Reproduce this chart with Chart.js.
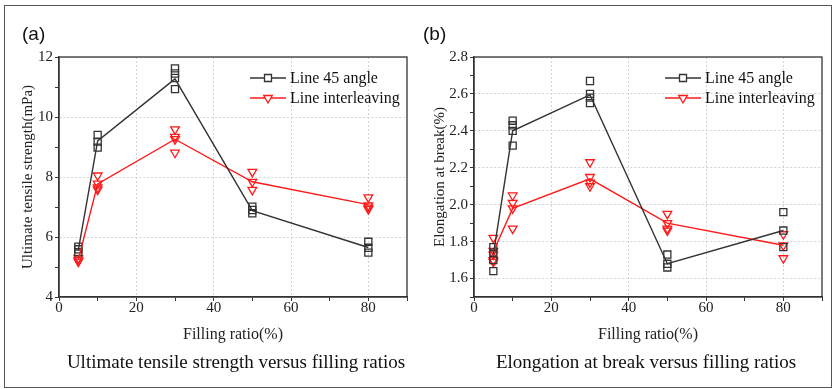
<!DOCTYPE html>
<html>
<head>
<meta charset="utf-8">
<script src="https://cdn.jsdelivr.net/npm/chart.js@4.4.1/dist/chart.umd.min.js"></script>
<style>
  body { margin: 0; background: #fff; }
  #wrap { position: relative; width: 835px; height: 389px; overflow: hidden; background: #fff; }
  .frame { position: absolute; left: 4px; top: 5px; width: 828px; height: 383px; border: 1px solid #555; box-sizing: border-box; }
  canvas { position: absolute; top: 0; }
  .tag { position: absolute; top: 22px; font: 19px "Liberation Sans", Arial, sans-serif; color: #111; line-height: 24px; }
  .caption { position: absolute; top: 350px; text-align: center; font: 19px "Liberation Serif", "Times New Roman", serif; color: #111; line-height: 24px; }
</style>
</head>
<body>
<div id="wrap">
  <div class="frame"></div>
  <canvas id="chartA" width="417" height="389" style="left:0"></canvas>
  <canvas id="chartB" width="418" height="389" style="left:417px"></canvas>
  <div class="tag" style="left:22px">(a)</div>
  <div class="tag" style="left:423px">(b)</div>
  <div class="caption" style="left:36px;width:400px">Ultimate tensile strength versus filling ratios</div>
  <div class="caption" style="left:446px;width:400px">Elongation at break versus filling ratios</div>
</div>
<script>
// Données
const fillingRatio = [5, 10, 30, 50, 80];
const xTickLabels = [0, 20, 40, 60, 80];

// (a) résistance à la traction
const strengthAngleMean = [5.57, 9.2, 11.27, 6.88, 5.65];
const strengthInterMean = [5.25, 7.77, 9.26, 7.84, 7.08];
const strengthAngleSamples = [[5.68, 5.59, 5.49], [9.4, 9.18, 8.98], [11.62, 11.45, 11.3, 10.93], [7.01, 6.9, 6.79], [5.84, 5.64, 5.48]];
const strengthInterSamples = [[5.3, 5.24, 5.18], [8.05, 7.78, 7.65, 7.58], [9.59, 9.34, 9.26, 8.81], [8.17, 7.84, 7.57], [7.32, 7.05, 6.98, 6.93]];
const strengthTicks = [4, 6, 8, 10, 12];

// (b) allongement à la rupture
const elongAngleMean = [1.73, 2.40, 2.595, 1.68, 1.86];
const elongInterMean = [1.745, 1.98, 2.14, 1.90, 1.78];
const elongAngleSamples = [[1.77, 1.74, 1.70, 1.64], [2.455, 2.43, 2.40, 2.32], [2.67, 2.60, 2.58, 2.55], [1.73, 1.68, 1.66], [1.96, 1.86, 1.77]];
const elongInterSamples = [[1.82, 1.75, 1.73, 1.70, 1.69], [2.05, 2.01, 1.98, 1.87], [2.23, 2.15, 2.12, 2.10], [1.95, 1.90, 1.87, 1.86], [1.84, 1.78, 1.71]];
const elongTicks = ['1.6', '1.8', '2.0', '2.2', '2.4', '2.6', '2.8'];

const SERIF = '"Liberation Serif", "Times New Roman", serif';
const BLACK = '#333333';
const RED = '#ff1a1a';

function toPoints(means) {
    return fillingRatio.map((x, i) => ({ x: x, y: means[i] }));
}

function toScatter(samples) {
    const pts = [];
    samples.forEach((list, i) => {
        list.forEach(v => pts.push({ x: fillingRatio[i], y: v }));
    });
    return pts;
}

// cadre autour de la zone de tracé
const framePlugin = {
    id: 'plotFrame',
    afterDraw(chart) {
        const a = chart.chartArea;
        const ctx = chart.ctx;
        ctx.save();
        ctx.strokeStyle = BLACK;
        ctx.lineWidth = 1.3;
        ctx.strokeRect(a.left, a.top, a.right - a.left, a.bottom - a.top);
        ctx.restore();
    }
};

// légende style Origin : trait + marqueur
const boxLegendPlugin = {
    id: 'boxLegend',
    afterDraw(chart) {
        const ctx = chart.ctx;
        const a = chart.chartArea;
        const items = chart.data.datasets.filter(d => d.showLine);
        items.forEach((d, i) => {
            const x0 = a.right - 157;
            const y = a.top + 21 + i * 20;
            const mx = x0 + 18;
            ctx.save();
            ctx.strokeStyle = d.borderColor;
            ctx.lineWidth = 1.3;
            ctx.beginPath();
            ctx.moveTo(x0, y);
            ctx.lineTo(x0 + 36, y);
            ctx.stroke();
            ctx.fillStyle = '#fff';
            ctx.beginPath();
            if (d.marker === 'rect') {
                ctx.rect(mx - 3.5, y - 3.5, 7, 7);
            } else {
                ctx.moveTo(mx - 4.3, y - 2.5);
                ctx.lineTo(mx + 4.3, y - 2.5);
                ctx.lineTo(mx, y + 5);
                ctx.closePath();
            }
            ctx.fill();
            ctx.stroke();
            ctx.fillStyle = '#111';
            ctx.font = '16px ' + SERIF;
            ctx.textBaseline = 'middle';
            ctx.fillText(d.label, x0 + 40, y + 1);
            ctx.restore();
        });
    }
};

function buildDatasets(angleMean, interMean, angleSamples, interSamples) {
    return [
        {
            label: 'Line 45 angle', marker: 'rect', showLine: true,
            data: toPoints(angleMean), borderColor: BLACK, borderWidth: 1.4,
            pointRadius: 0
        },
        {
            label: 'Line interleaving', marker: 'triangle', showLine: true,
            data: toPoints(interMean), borderColor: RED, borderWidth: 1.4,
            pointRadius: 0
        },
        {
            label: 'Line 45 angle samples', showLine: false,
            data: toScatter(angleSamples), borderColor: BLACK,
            pointStyle: 'rect', pointRadius: 5, pointBorderWidth: 1.3,
            pointBackgroundColor: 'rgba(255,255,255,0)', pointBorderColor: BLACK
        },
        {
            label: 'Line interleaving samples', showLine: false,
            data: toScatter(interSamples), borderColor: RED,
            pointStyle: 'triangle', rotation: 180, pointRadius: 5, pointBorderWidth: 1.3,
            pointBackgroundColor: 'rgba(255,255,255,0)', pointBorderColor: RED
        }
    ];
}

function makeChart(canvasId, cfg) {
    const ctx = document.getElementById(canvasId).getContext('2d');
    return new Chart(ctx, {
        type: 'scatter',
        data: { datasets: cfg.datasets },
        options: {
            responsive: false,
            animation: false,
            devicePixelRatio: 1,
            layout: { padding: { left: 0, right: cfg.padRight, top: 57, bottom: 42 } },
            plugins: {
                legend: { display: false },
                tooltip: { enabled: false }
            },
            scales: {
                x: {
                    type: 'linear', min: 0, max: 90,
                    afterFit: function(scale) { scale.height = 50; },
                    ticks: {
                        stepSize: 10, autoSkip: false, maxRotation: 0, padding: 0,
                        color: '#222', font: { family: SERIF, size: 15, lineHeight: 1 },
                        callback: v => xTickLabels.includes(v) ? String(v) : ''
                    },
                    grid: {
                        color: c => (c.tick && xTickLabels.includes(c.tick.value)) ? '#d4d4d4' : 'rgba(0,0,0,0)',
                        tickColor: BLACK, tickLength: 4, lineWidth: 1, tickWidth: 1
                    },
                    border: { color: BLACK, width: 1.3, dash: [2, 2] },
                    title: {
                        display: true, text: 'Filling ratio(%)', color: '#222',
                        font: { family: SERIF, size: 16 }, padding: { top: 0, bottom: 2.4 }
                    }
                },
                y: {
                    type: 'linear', min: cfg.yMin, max: cfg.yMax,
                    afterFit: function(scale) { scale.width = cfg.yWidth; },
                    ticks: {
                        stepSize: cfg.yStep, autoSkip: false, padding: 2,
                        color: '#222', font: { family: SERIF, size: 15 },
                        callback: cfg.yLabel
                    },
                    grid: {
                        color: c => (c.tick && cfg.yLabel(c.tick.value) !== '') ? '#d4d4d4' : 'rgba(0,0,0,0)',
                        tickColor: BLACK, tickLength: 4, lineWidth: 1, tickWidth: 1
                    },
                    border: { color: BLACK, width: 1.3, dash: [2, 2] },
                    title: {
                        display: true, text: cfg.yTitle, color: '#222',
                        font: { family: SERIF, size: 15 }, padding: { top: cfg.yTitlePad, bottom: 0 }
                    }
                }
            }
        },
        plugins: [framePlugin, boxLegendPlugin]
    });
}

makeChart('chartA', {
    datasets: buildDatasets(strengthAngleMean, strengthInterMean, strengthAngleSamples, strengthInterSamples),
    padRight: 10, yWidth: 59, yMin: 4, yMax: 12, yStep: 1, yTitlePad: 19,
    yTitle: 'Ultimate tensile strength(mPa)',
    yLabel: v => strengthTicks.includes(Math.round(v * 1000) / 1000) ? String(Math.round(v)) : ''
});

makeChart('chartB', {
    datasets: buildDatasets(elongAngleMean, elongInterMean, elongAngleSamples, elongInterSamples),
    padRight: 13, yWidth: 57, yMin: 1.5, yMax: 2.8, yStep: 0.1, yTitlePad: 14,
    yTitle: 'Elongation at break(%)',
    yLabel: v => elongTicks.includes(v.toFixed(1)) ? v.toFixed(1) : ''
});
</script>
</body>
</html>
